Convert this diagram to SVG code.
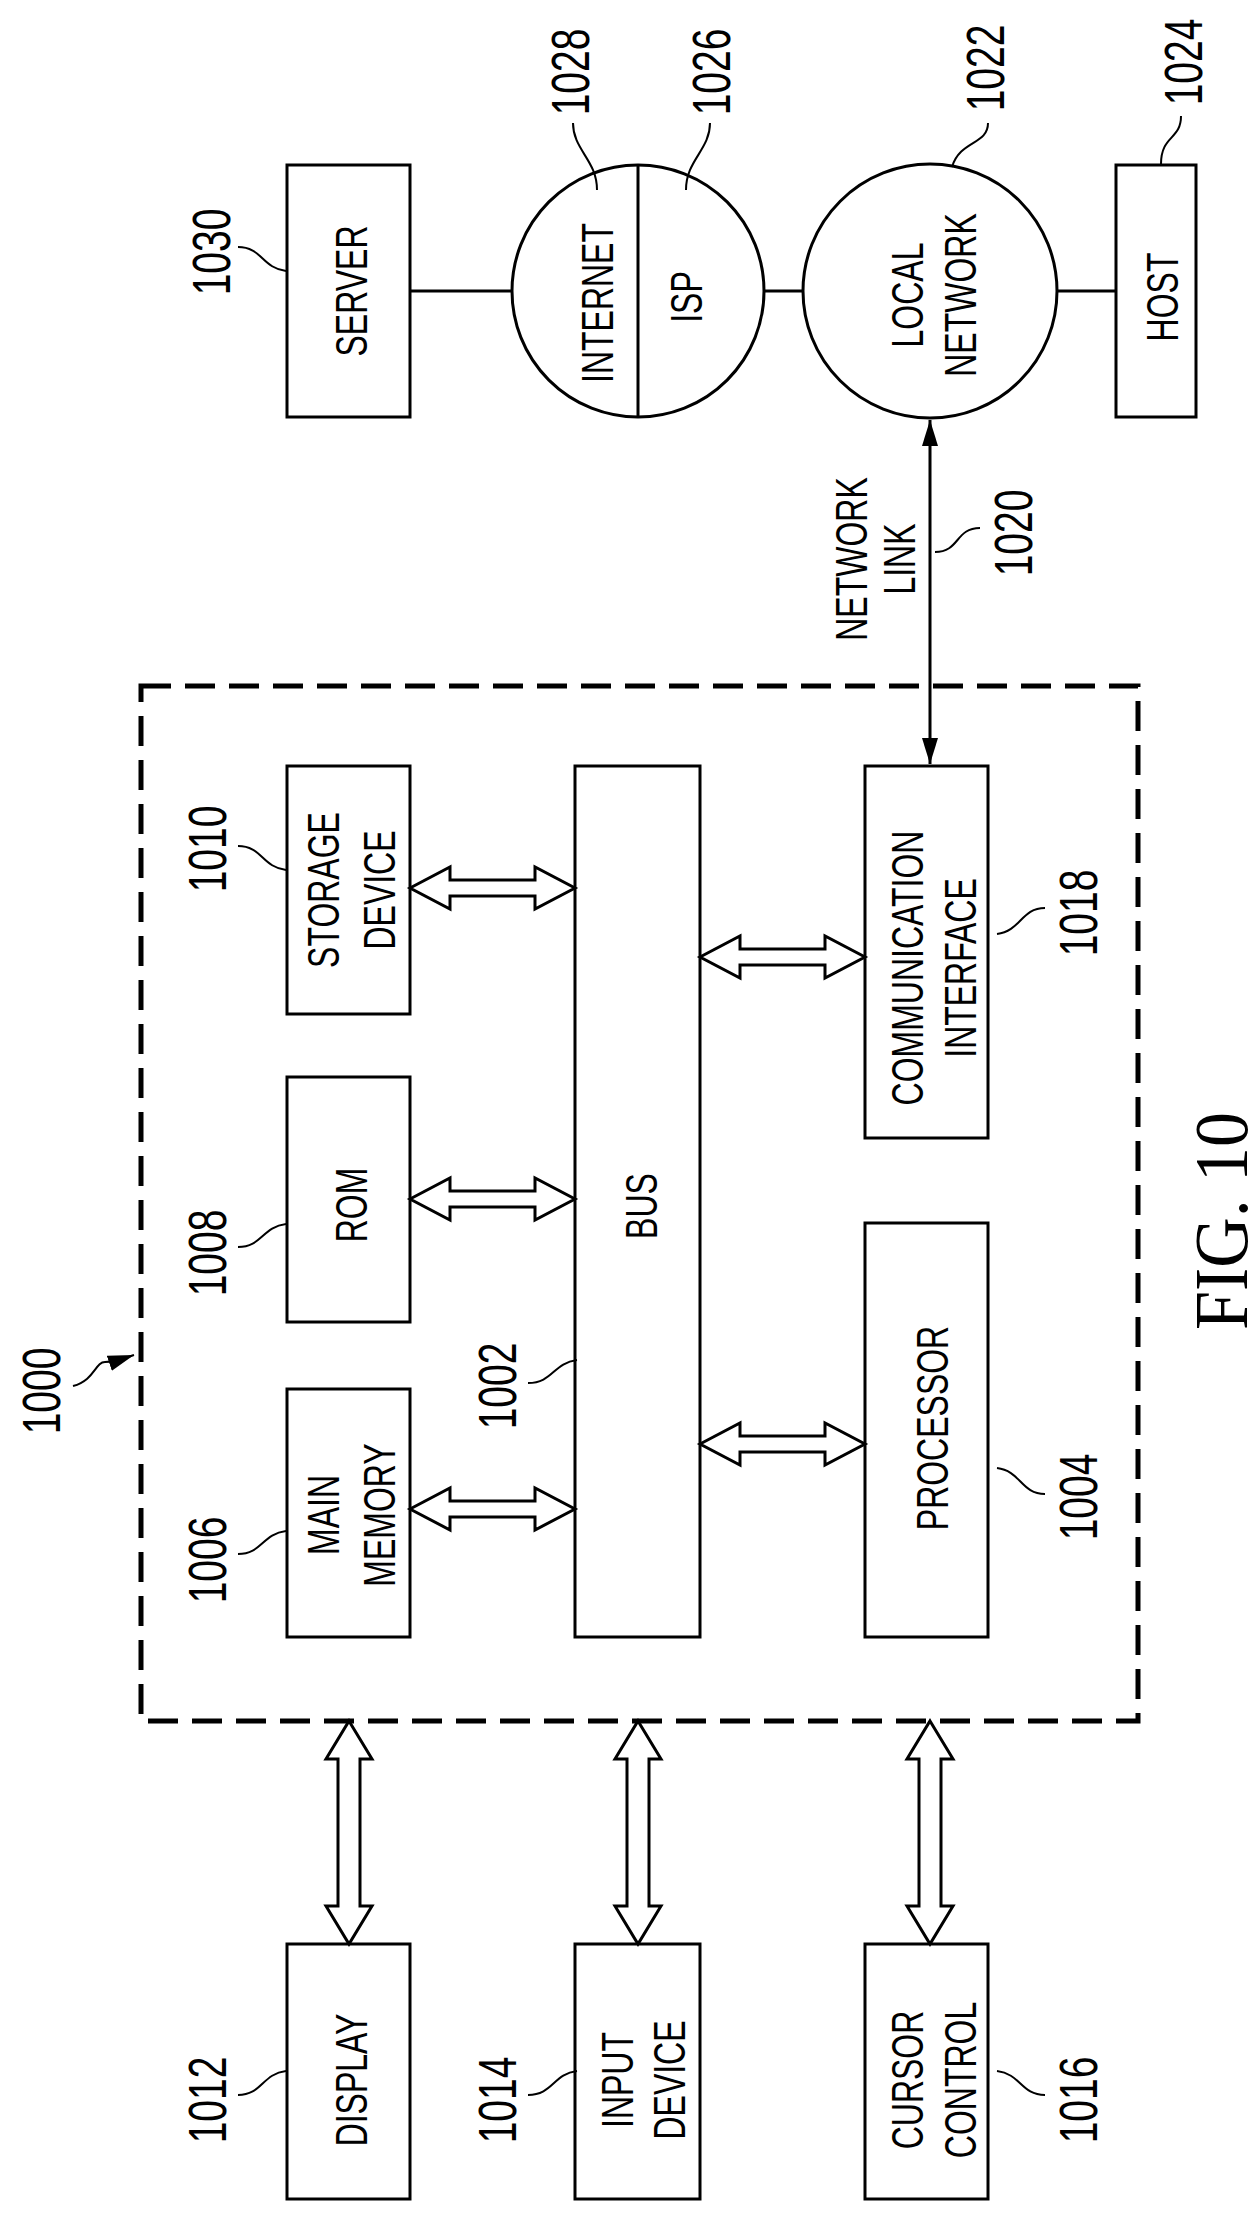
<svg xmlns="http://www.w3.org/2000/svg" width="1260" height="2215" viewBox="0 0 1260 2215">
<style>
.b{fill:#fff;stroke:#000;stroke-width:3}
.l{fill:none;stroke:#000;stroke-width:3}
.ld{fill:none;stroke:#000;stroke-width:2}
.ba{fill:#fff;stroke:#000;stroke-width:3;stroke-linejoin:miter}
.t{font-family:"Liberation Sans",Arial,sans-serif;font-size:32px;text-anchor:middle}
.n{font-family:"Liberation Sans",Arial,sans-serif;font-size:39px;text-anchor:middle}
.f{font-family:"Liberation Serif","Times New Roman",serif;font-size:70px;text-anchor:middle}
</style>
<defs>
<marker id="ah2" markerWidth="26" markerHeight="16" refX="26" refY="8" orient="auto-start-reverse" markerUnits="userSpaceOnUse">
<path d="M0,0 L26,8 L0,16 z" fill="#000"/>
</marker>
</defs>
<rect width="1260" height="2215" fill="#fff"/>

<g id="system1000">
<rect x="141" y="686" width="997" height="1035" fill="none" stroke="#000" stroke-width="5" stroke-dasharray="30 14"/>
<text class="n" transform="translate(60,1391) rotate(-90) scale(1,1.4)">1000</text>
</g>

<g id="server1030">
<rect class="b" x="287" y="165" width="123" height="252"/>
<text class="t" transform="translate(367,291) rotate(-90) scale(1,1.4)">SERVER</text>
<text class="n" transform="translate(230,252) rotate(-90) scale(1,1.4)">1030</text>
</g>
<g id="internet1028-isp1026">
<circle class="b" cx="638" cy="291" r="126"/>
<line class="l" x1="638" y1="165" x2="638" y2="417"/>
<text class="t" transform="translate(613,303) rotate(-90) scale(1,1.4)">INTERNET</text>
<text class="t" transform="translate(702,297) rotate(-90) scale(1,1.4)">ISP</text>
<text class="n" transform="translate(589,72) rotate(-90) scale(1,1.4)">1028</text>
<text class="n" transform="translate(730,72) rotate(-90) scale(1,1.4)">1026</text>
</g>
<g id="local1022">
<circle class="b" cx="930" cy="291" r="127"/>
<text class="t" transform="translate(923,295) rotate(-90) scale(1,1.4)">LOCAL</text>
<text class="t" transform="translate(976,295) rotate(-90) scale(1,1.4)">NETWORK</text>
<text class="n" transform="translate(1004,68) rotate(-90) scale(1,1.4)">1022</text>
</g>
<g id="host1024">
<rect class="b" x="1116" y="165" width="80" height="252"/>
<text class="t" transform="translate(1178,297) rotate(-90) scale(1,1.4)">HOST</text>
<text class="n" transform="translate(1202,62) rotate(-90) scale(1,1.4)">1024</text>
</g>
<g id="link1020">
<text class="t" transform="translate(867,559) rotate(-90) scale(1,1.4)">NETWORK</text>
<text class="t" transform="translate(915,559) rotate(-90) scale(1,1.4)">LINK</text>
<text class="n" transform="translate(1032,533) rotate(-90) scale(1,1.4)">1020</text>
</g>
<g id="storage1010">
<rect class="b" x="287" y="766" width="123" height="248"/>
<text class="t" transform="translate(339,890) rotate(-90) scale(1,1.4)">STORAGE</text>
<text class="t" transform="translate(395,890) rotate(-90) scale(1,1.4)">DEVICE</text>
<text class="n" transform="translate(226,849) rotate(-90) scale(1,1.4)">1010</text>
</g>
<g id="rom1008">
<rect class="b" x="287" y="1077" width="123" height="245"/>
<text class="t" transform="translate(367,1205) rotate(-90) scale(1,1.4)">ROM</text>
<text class="n" transform="translate(226,1253) rotate(-90) scale(1,1.4)">1008</text>
</g>
<g id="main1006">
<rect class="b" x="287" y="1389" width="123" height="248"/>
<text class="t" transform="translate(339,1515) rotate(-90) scale(1,1.4)">MAIN</text>
<text class="t" transform="translate(395,1515) rotate(-90) scale(1,1.4)">MEMORY</text>
<text class="n" transform="translate(226,1560) rotate(-90) scale(1,1.4)">1006</text>
</g>
<g id="bus1002">
<rect class="b" x="575" y="766" width="125" height="871"/>
<text class="t" transform="translate(657,1206) rotate(-90) scale(1,1.4)">BUS</text>
<text class="n" transform="translate(516,1386) rotate(-90) scale(1,1.4)">1002</text>
</g>
<g id="comm1018">
<rect class="b" x="865" y="766" width="123" height="372"/>
<text class="t" transform="translate(923,968) rotate(-90) scale(1,1.4)">COMMUNICATION</text>
<text class="t" transform="translate(976,968) rotate(-90) scale(1,1.4)">INTERFACE</text>
<text class="n" transform="translate(1097,913) rotate(-90) scale(1,1.4)">1018</text>
</g>
<g id="proc1004">
<rect class="b" x="865" y="1223" width="123" height="414"/>
<text class="t" transform="translate(948,1428) rotate(-90) scale(1,1.4)">PROCESSOR</text>
<text class="n" transform="translate(1097,1497) rotate(-90) scale(1,1.4)">1004</text>
</g>
<g id="display1012">
<rect class="b" x="287" y="1944" width="123" height="255"/>
<text class="t" transform="translate(367,2080) rotate(-90) scale(1,1.4)">DISPLAY</text>
<text class="n" transform="translate(226,2100) rotate(-90) scale(1,1.4)">1012</text>
</g>
<g id="input1014">
<rect class="b" x="575" y="1944" width="125" height="255"/>
<text class="t" transform="translate(633,2080) rotate(-90) scale(1,1.4)">INPUT</text>
<text class="t" transform="translate(685,2080) rotate(-90) scale(1,1.4)">DEVICE</text>
<text class="n" transform="translate(516,2100) rotate(-90) scale(1,1.4)">1014</text>
</g>
<g id="cursor1016">
<rect class="b" x="865" y="1944" width="123" height="255"/>
<text class="t" transform="translate(923,2080) rotate(-90) scale(1,1.4)">CURSOR</text>
<text class="t" transform="translate(976,2080) rotate(-90) scale(1,1.4)">CONTROL</text>
<text class="n" transform="translate(1097,2100) rotate(-90) scale(1,1.4)">1016</text>
</g>

<g id="connectors">
<line class="l" x1="410" y1="291" x2="512" y2="291"/>
<line class="l" x1="764" y1="291" x2="803" y2="291"/>
<line class="l" x1="1057" y1="291" x2="1116" y2="291"/>
<line class="l" x1="930" y1="420" x2="930" y2="764" marker-start="url(#ah2)" marker-end="url(#ah2)"/>
<path class="ld" d="M73,1386 C95,1380 95,1362 105,1362 C118,1362 125,1358 134,1355" marker-end="url(#ah2)"/>
<polygon class="ba" points="410,888 450,867 450,880 535,880 535,867 575,888 535,909 535,896 450,896 450,909"/>
<polygon class="ba" points="410,1199 450,1178 450,1191 535,1191 535,1178 575,1199 535,1220 535,1207 450,1207 450,1220"/>
<polygon class="ba" points="410,1509 450,1488 450,1501 535,1501 535,1488 575,1509 535,1530 535,1517 450,1517 450,1530"/>
<polygon class="ba" points="700,957 740,936 740,949 825,949 825,936 865,957 825,978 825,965 740,965 740,978"/>
<polygon class="ba" points="700,1444 740,1423 740,1436 825,1436 825,1423 865,1444 825,1465 825,1452 740,1452 740,1465"/>
<polygon class="ba" points="349,1721 372,1759 360,1759 360,1906 372,1906 349,1944 326,1906 338,1906 338,1759 326,1759"/>
<polygon class="ba" points="638,1721 661,1759 649,1759 649,1906 661,1906 638,1944 615,1906 627,1906 627,1759 615,1759"/>
<polygon class="ba" points="930,1721 953,1759 941,1759 941,1906 953,1906 930,1944 907,1906 919,1906 919,1759 907,1759"/>
<path class="ld" d="M286,271 C262,268 262,247 238,247"/>
<path class="ld" d="M597,190 C597,160 573,150 573,123"/>
<path class="ld" d="M686,190 C686,160 710,150 710,123"/>
<path class="ld" d="M952,167 C960,140 988,145 988,123"/>
<path class="ld" d="M1161,164 C1161,135 1181,140 1181,116"/>
<path class="ld" d="M935,552 C960,552 955,528 980,528"/>
<path class="ld" d="M286,870 C262,867 262,846 238,846"/>
<path class="ld" d="M286,1224 C262,1227 262,1247 238,1247"/>
<path class="ld" d="M577,1360 C553,1363 553,1383 528,1383"/>
<path class="ld" d="M286,1531 C262,1534 262,1554 238,1554"/>
<path class="ld" d="M997,934 C1021,931 1021,908 1045,908"/>
<path class="ld" d="M997,1468 C1021,1471 1021,1494 1045,1494"/>
<path class="ld" d="M286,2071 C262,2074 262,2095 238,2095"/>
<path class="ld" d="M577,2071 C553,2074 553,2095 528,2095"/>
<path class="ld" d="M997,2071 C1021,2074 1021,2095 1045,2095"/>
</g>
<text class="f" transform="translate(1247,1221) rotate(-90) scale(1,1.1)">FIG. 10</text>
</svg>
